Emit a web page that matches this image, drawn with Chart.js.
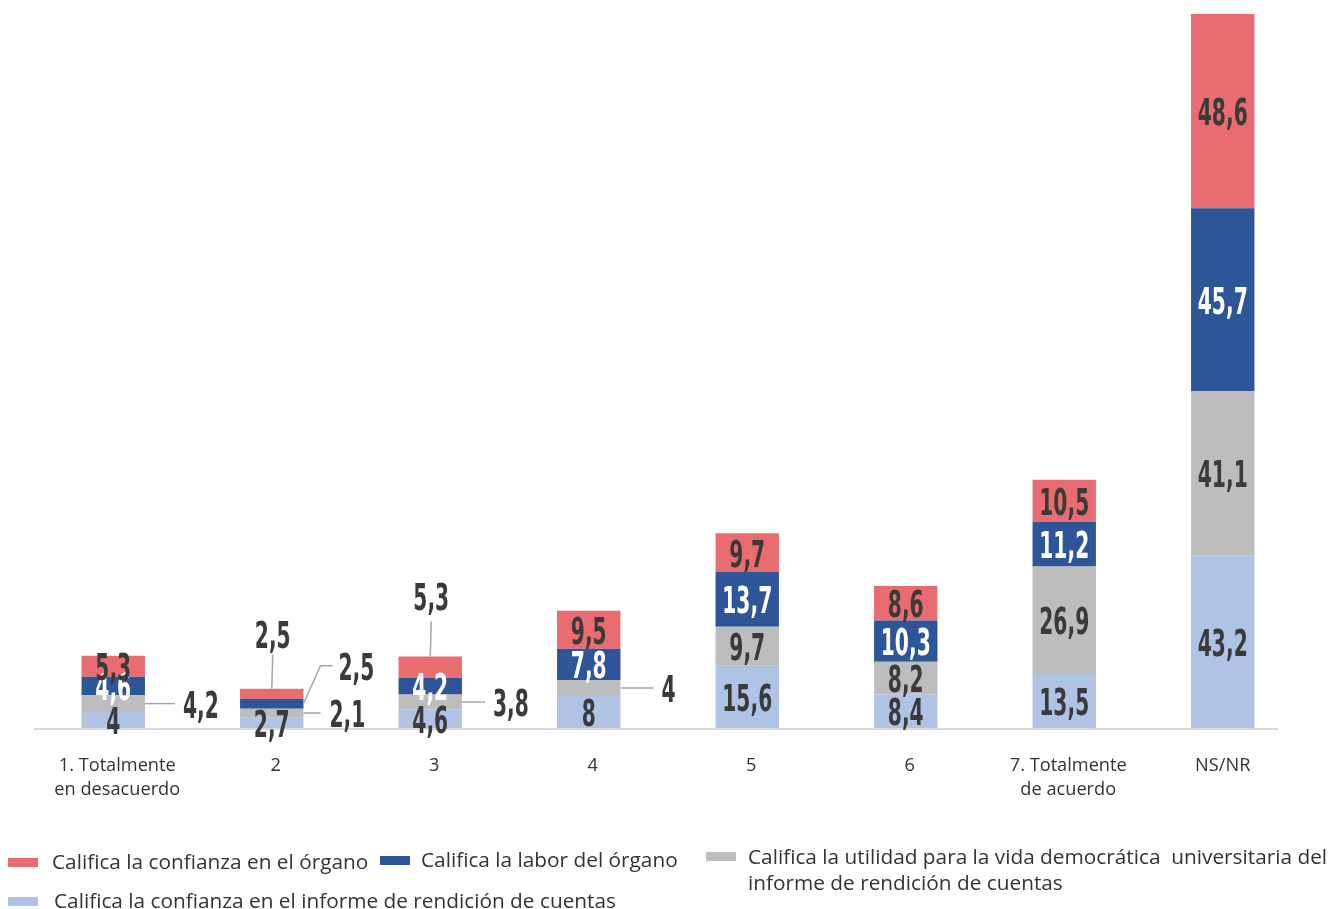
<!DOCTYPE html>
<html>
<head>
<meta charset="utf-8">
<script src="https://cdn.jsdelivr.net/npm/chart.js@4.4.0/dist/chart.umd.min.js"></script>
<style>
  body { margin: 0; background: #fff; }
  #wrap { position: relative; width: 1340px; height: 909px; }
  .leg { position: absolute; font-family: 'Open Sans', sans-serif; font-size: 20.8px; color: #333; line-height: 26px; white-space: nowrap; }
  .sw { position: absolute; width: 30px; height: 9px; }
</style>
</head>
<body>
<div id="wrap">
  <canvas id="chart" width="1340" height="909"></canvas>
  <div class="sw" style="left:8px;top:858px;background:#E96C70"></div>
  <div class="leg" style="left:52px;top:848px">Califica la confianza en el órgano</div>
  <div class="sw" style="left:380px;top:856px;background:#2E5597"></div>
  <div class="leg" style="left:421px;top:846px">Califica la labor del órgano</div>
  <div class="sw" style="left:706px;top:852px;background:#BDBDBD"></div>
  <div class="leg" style="left:748px;top:843px">Califica la utilidad para la vida democrática&nbsp; universitaria del<br>informe de rendición de cuentas</div>
  <div class="sw" style="left:8px;top:897px;background:#AFC3E5"></div>
  <div class="leg" style="left:54px;top:887px">Califica la confianza en el informe de rendición de cuentas</div>
</div>
<script>
// categorias y series (de abajo hacia arriba)
const categorias = [['1. Totalmente', 'en desacuerdo'], ['2'], ['3'], ['4'], ['5'], ['6'], ['7. Totalmente', 'de acuerdo'], ['NS/NR']];
const confianzaInforme = [4, 2.7, 4.6, 8, 15.6, 8.4, 13.5, 43.2];
const utilidad = [4.2, 2.1, 3.8, 4, 9.7, 8.2, 26.9, 41.1];
const labor = [4.6, 2.5, 4.2, 7.8, 13.7, 10.3, 11.2, 45.7];
const confianzaOrgano = [5.3, 2.5, 5.3, 9.5, 9.7, 8.6, 10.5, 48.6];

const series = [
  { label: 'Califica la confianza en el informe de rendición de cuentas', data: confianzaInforme, color: '#AFC3E5', txt: '#3a3a3a' },
  { label: 'Califica la utilidad para la vida democrática universitaria del informe de rendición de cuentas', data: utilidad, color: '#BDBDBD', txt: '#3a3a3a' },
  { label: 'Califica la labor del órgano', data: labor, color: '#2E5597', txt: '#ffffff' },
  { label: 'Califica la confianza en el órgano', data: confianzaOrgano, color: '#E96C70', txt: '#3a3a3a' }
];

// etiquetas fuera de la barra: [serie, categoria] -> tipo de guia
const callouts = {
  '1-0': { type: 'right', line: 30, gap: 8 },
  '1-1': { type: 'right', line: 17, gap: 9 },
  '2-1': { type: 'elbow', dx: 17, dy: -38, run: 12, gap: 6 },
  '3-1': { type: 'top', line: 34, gap: 21 },
  '1-2': { type: 'right', line: 23, gap: 8 },
  '3-2': { type: 'top', line: 35, gap: 25 },
  '1-3': { type: 'right', line: 33, gap: 8 }
};

const FONT = "bold 38px 'DejaVu Sans Condensed', 'DejaVu Sans', sans-serif";
let sx = 1;

function fmt(v) { return String(v).replace('.', ','); }

function drawNum(ctx, text, x, y, align, color) {
  // texto condensado: escala horizontal
  ctx.save();
  ctx.font = FONT;
  ctx.fillStyle = color;
  ctx.textBaseline = 'alphabetic';
  ctx.textAlign = 'left';
  const w = ctx.measureText(text).width * sx;
  let left = x;
  if (align === 'center') left = x - w / 2;
  ctx.translate(left, y + 14);
  ctx.scale(sx, 1);
  ctx.fillText(text, 0, 0);
  ctx.restore();
}

const labelsPlugin = {
  id: 'labelsPlugin',
  afterDatasetsDraw(chart) {
    const ctx = chart.ctx;
    const area = chart.chartArea;
    ctx.save();
    ctx.font = FONT;
    sx = 50 / ctx.measureText('48,6').width;

    // linea base
    ctx.strokeStyle = '#d9d9d9';
    ctx.lineWidth = 2;
    ctx.beginPath();
    ctx.moveTo(area.left, area.bottom + 1);
    ctx.lineTo(1278, area.bottom + 1);
    ctx.stroke();

    chart.data.datasets.forEach((ds, di) => {
      const meta = chart.getDatasetMeta(di);
      meta.data.forEach((bar, ci) => {
        const v = ds.data[ci];
        const right = bar.x + bar.width / 2;
        const midY = (bar.y + bar.base) / 2;
        const c = callouts[di + '-' + ci];
        ctx.strokeStyle = '#a6a6a6';
        ctx.lineWidth = 1.5;
        if (!c) {
          drawNum(ctx, fmt(v), bar.x, midY, 'center', series[di].txt);
        } else if (c.type === 'right') {
          ctx.beginPath();
          ctx.moveTo(right, midY);
          ctx.lineTo(right + c.line, midY);
          ctx.stroke();
          drawNum(ctx, fmt(v), right + c.line + c.gap, midY, 'left', '#3a3a3a');
        } else if (c.type === 'elbow') {
          ctx.beginPath();
          ctx.moveTo(right, midY);
          ctx.lineTo(right + c.dx, midY + c.dy);
          ctx.lineTo(right + c.dx + c.run, midY + c.dy);
          ctx.stroke();
          drawNum(ctx, fmt(v), right + c.dx + c.run + c.gap, midY + c.dy, 'left', '#3a3a3a');
        } else if (c.type === 'top') {
          ctx.beginPath();
          ctx.moveTo(bar.x, bar.y);
          ctx.lineTo(bar.x + 1, bar.y - c.line);
          ctx.stroke();
          drawNum(ctx, fmt(v), bar.x + 1, bar.y - c.line - c.gap, 'center', '#3a3a3a');
        }
      });
    });

    // etiquetas de categoria (algo corridas a la derecha, como en el original)
    const xs = chart.scales.x;
    ctx.font = "18.2px 'Open Sans', sans-serif";
    ctx.fillStyle = '#333';
    ctx.textAlign = 'center';
    ctx.textBaseline = 'middle';
    categorias.forEach((lines, i) => {
      const x = xs.getPixelForValue(i) + (i < 7 ? 4 : 0);
      lines.forEach((t, j) => ctx.fillText(t, x, 766 + j * 24));
    });
    ctx.restore();
  }
};

new Chart(document.getElementById('chart'), {
  type: 'bar',
  data: {
    labels: categorias.map(c => c.join(' ')),
    datasets: series.map(s => ({
      label: s.label,
      data: s.data,
      backgroundColor: s.color,
      borderWidth: 0,
      categoryPercentage: 1,
      barPercentage: 0.4
    }))
  },
  options: {
    responsive: false,
    animation: false,
    layout: { padding: { left: 34, right: 38, top: 14, bottom: 181 } },
    plugins: { legend: { display: false }, tooltip: { enabled: false } },
    scales: {
      x: { stacked: true, display: false },
      y: { stacked: true, display: false, min: 0, max: 178.6 }
    }
  },
  plugins: [labelsPlugin]
});
</script>
</body>
</html>
